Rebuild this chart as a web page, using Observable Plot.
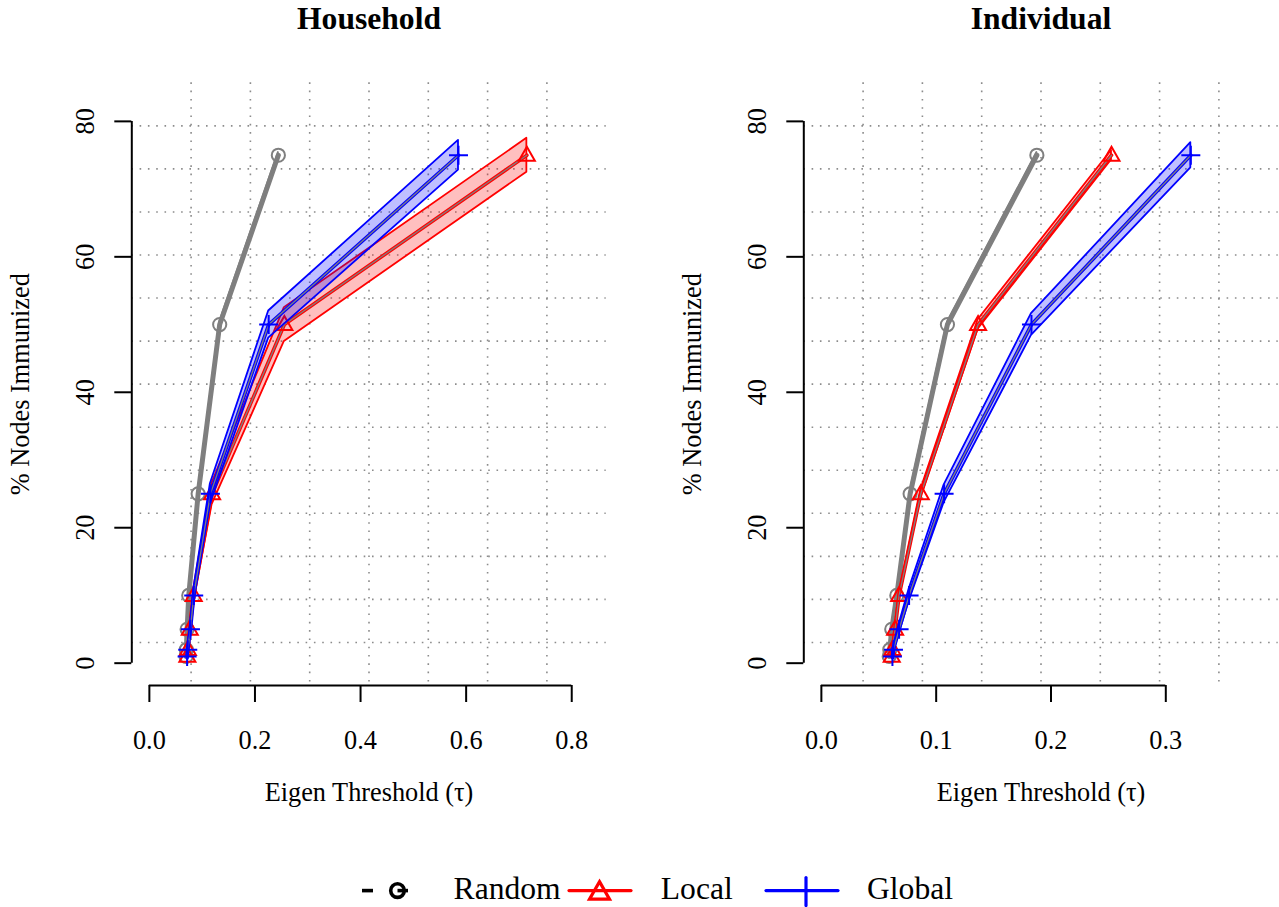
<!DOCTYPE html>
<html><head><meta charset="utf-8">
<script src="https://cdn.jsdelivr.net/npm/d3@7"></script>
<script src="https://cdn.jsdelivr.net/npm/@observablehq/plot@0.6"></script>
<style>
html,body{margin:0;padding:0;background:#fff;}
#page{position:relative;width:1279px;height:907px;overflow:hidden;font-family:"Liberation Serif","Times New Roman",serif;}
#page > svg{position:absolute;top:0;}
</style></head><body><div id="page"></div>
<script>
// ---- data ----
const pctImmunized = [1, 2, 5, 10, 25, 50, 75];
const strategies = ["Random", "Local", "Global"];
const strategyColors = ["#7f7f7f", "#ff0000", "#0000ff"];

const householdRandom = [0.0695, 0.0700, 0.0715, 0.0746, 0.0924, 0.1332, 0.2443];
const householdLocal  = [0.0720, 0.0730, 0.0765, 0.0840, 0.1188, 0.2557, 0.7150];
const householdGlobal = [0.0715, 0.0727, 0.0778, 0.0840, 0.1156, 0.2260, 0.5855];
const householdRandomSd = [0.2, 0.2, 0.25, 0.3, 0.35, 0.4, 0.4];
const householdLocalSd  = [0.4, 0.5, 0.7, 1.0, 1.6, 2.5, 2.5];
const householdGlobalSd = [0.4, 0.5, 0.7, 0.9, 1.5, 2.0, 2.2];

const individualRandom = [0.0591, 0.0596, 0.0613, 0.0657, 0.0773, 0.1098, 0.1877];
const individualLocal  = [0.0613, 0.0619, 0.0642, 0.0677, 0.0866, 0.1365, 0.2527];
const individualGlobal = [0.0619, 0.0628, 0.0677, 0.0764, 0.1069, 0.1830, 0.3218];
const individualRandomSd = [0.2, 0.2, 0.25, 0.3, 0.35, 0.4, 0.4];
const individualLocalSd  = [0.3, 0.3, 0.4, 0.5, 0.6, 0.7, 0.7];
const individualGlobalSd = [0.4, 0.5, 0.7, 0.9, 1.3, 1.6, 1.85];

const xTicksHousehold = [0, 0.2, 0.4, 0.6, 0.8];
const xTicksIndividual = [0, 0.1, 0.2, 0.3];
const yTicks = [0, 20, 40, 60, 80];
const xLimHousehold = [0, 0.832];
const xLimIndividual = [0, 0.3826];
const yLim = [0, 82.4];
const xLabel = "Eigen Threshold (\u03c4)";
const yLabel = "% Nodes Immunized";

// ---- helpers ----
function rowsFor(taus, sds, strategy) {
  return pctImmunized.map((p, i) => ({strategy, tau: taus[i], pct: p, lo: p - sds[i], hi: p + sds[i]}));
}
const symCircle = {draw(ctx, size) { const r = Math.sqrt(size / Math.PI); ctx.moveTo(r, 0); ctx.arc(0, 0, r, 0, 2 * Math.PI); }};
const symTriangle = {draw(ctx, size) { const r = Math.sqrt(size / Math.PI); ctx.moveTo(0, -r * 1.07); ctx.lineTo(r, r * 0.68); ctx.lineTo(-r, r * 0.68); ctx.closePath(); }};
const symPlus = {draw(ctx, size) { const r = Math.sqrt(size / Math.PI); ctx.moveTo(-r, 0); ctx.lineTo(r, 0); ctx.moveTo(0, -r); ctx.lineTo(0, r); }};
const symbols = [symCircle, symTriangle, symPlus];
const symR = [6.6, 8, 9.5];
const ext = l => [l[0] - 0.04 * (l[1] - l[0]), l[1] + 0.04 * (l[1] - l[0])];

const FS = 26.3, FT = 31.6;
const W = 672, H = 907, ML = 131.3, MT = 82.3, FRAME_W = 474.4, FRAME_H = 602.7;

function panel({title, xLim, xTicks, series, left, width}) {
  const xd = ext(xLim), yd = ext(yLim);
  const gx = d3.range(1, 8).map(k => xd[0] + k * (xd[1] - xd[0]) / 8);
  const gy = d3.range(1, 14).map(k => yd[0] + k * (yd[1] - yd[0]) / 14);
  const grid = {stroke: "#8c8c8c", strokeWidth: 1.6, strokeDasharray: "1.6,6.7"};
  const marks = [
    Plot.ruleX(gx, grid),
    Plot.ruleY(gy, grid)
  ];
  series.forEach((rows, i) => {
    const c = strategyColors[i];
    marks.push(
      Plot.areaY(rows, {x: "tau", y1: "lo", y2: "hi", fill: c, fillOpacity: 0.25, stroke: c, strokeWidth: 1.8, strokeLinejoin: "round"}),
      Plot.line(rows, {x: "tau", y: "pct", stroke: c, strokeWidth: i === 0 ? 5 : 3.6}),
      Plot.line(rows, {x: "tau", y: "pct", stroke: "#7f7f7f", strokeWidth: 1.3}),
      Plot.dot(rows, {x: "tau", y: "pct", symbol: symbols[i], r: symR[i], stroke: c, strokeWidth: 2, fill: "none"})
    );
  });
  marks.push(
    // axes
    Plot.ruleY([yd[0]], {x1: xTicks[0], x2: xTicks[xTicks.length - 1], stroke: "black", strokeWidth: 2}),
    Plot.ruleX([xd[0]], {y1: yTicks[0], y2: yTicks[yTicks.length - 1], stroke: "black", strokeWidth: 2}),
    Plot.axisX({ticks: xTicks, tickSize: 17, tickFormat: () => "", label: null, stroke: "black", strokeWidth: 2, strokeOpacity: 1}),
    Plot.axisY({ticks: yTicks, tickSize: 17, tickFormat: () => "", label: null, stroke: "black", strokeWidth: 2, strokeOpacity: 1}),
    Plot.text(xTicks, {x: d => d, text: d => d3.format(".1f")(d), frameAnchor: "bottom", dy: 63, lineAnchor: "bottom", fontSize: FS}),
    Plot.text(yTicks, {y: d => d, text: d => String(d), frameAnchor: "left", dx: -37.9, rotate: -90, lineAnchor: "bottom", textAnchor: "middle", fontSize: FS}),
    Plot.text([xLabel], {text: d => d, frameAnchor: "bottom", dy: 115.7, lineAnchor: "bottom", fontSize: FS}),
    Plot.text([yLabel], {text: d => d, frameAnchor: "left", dx: 28.7 - ML, rotate: -90, lineAnchor: "bottom", textAnchor: "middle", fontSize: FS}),
    Plot.text([title], {text: d => d, frameAnchor: "top", dy: 28.3 - MT, lineAnchor: "bottom", fontSize: FT, fontWeight: "bold"})
  );
  const svg = Plot.plot({
    width, height: H,
    marginLeft: ML, marginTop: MT,
    marginRight: width - ML - FRAME_W,
    marginBottom: H - MT - FRAME_H,
    x: {domain: xd},
    y: {domain: yd},
    style: {fontFamily: "Liberation Serif, Times New Roman, serif", background: "transparent", overflow: "visible"},
    marks
  });
  svg.style.left = left + "px";
  return svg;
}

const page = document.getElementById("page");
page.appendChild(panel({
  title: "Household", xLim: xLimHousehold, xTicks: xTicksHousehold, left: 0, width: W,
  series: [rowsFor(householdRandom, householdRandomSd, "Random"), rowsFor(householdLocal, householdLocalSd, "Local"), rowsFor(householdGlobal, householdGlobalSd, "Global")]
}));
page.appendChild(panel({
  title: "Individual", xLim: xLimIndividual, xTicks: xTicksIndividual, left: W, width: 1279 - W,
  series: [rowsFor(individualRandom, individualRandomSd, "Random"), rowsFor(individualLocal, individualLocalSd, "Local"), rowsFor(individualGlobal, individualGlobalSd, "Global")]
}));

// ---- legend ----
const lg = d3.select(page).append("svg").attr("width", 1279).attr("height", 47).style("top", "860px").style("left", "0px");
const ly = 30.6;
lg.append("line").attr("x1", 362).attr("x2", 373).attr("y1", ly).attr("y2", ly).attr("stroke", "black").attr("stroke-width", 3.6);
lg.append("line").attr("x1", 397.5).attr("x2", 408).attr("y1", ly).attr("y2", ly).attr("stroke", "black").attr("stroke-width", 3.6);
lg.append("circle").attr("cx", 397.5).attr("cy", ly).attr("r", 6.8).attr("fill", "none").attr("stroke", "black").attr("stroke-width", 3.6);
lg.append("line").attr("x1", 569).attr("x2", 631).attr("y1", ly).attr("y2", ly).attr("stroke", strategyColors[1]).attr("stroke-width", 3.2).attr("stroke-linecap", "round");
lg.append("path").attr("d", `M599.5,${ly - 9}L609.5,${ly + 8.5}L589.5,${ly + 8.5}Z`).attr("fill", "none").attr("stroke", strategyColors[1]).attr("stroke-width", 3.2);
lg.append("line").attr("x1", 766).attr("x2", 838).attr("y1", ly).attr("y2", ly).attr("stroke", strategyColors[2]).attr("stroke-width", 3.2).attr("stroke-linecap", "round");
lg.append("line").attr("x1", 806).attr("x2", 806).attr("y1", ly - 13).attr("y2", ly + 15).attr("stroke", strategyColors[2]).attr("stroke-width", 3.2).attr("stroke-linecap", "round");
const labelX = [453.6, 660.8, 867];
strategies.forEach((s, i) => {
  lg.append("text").attr("x", labelX[i]).attr("y", 39).attr("font-size", FT).attr("font-family", "Liberation Serif, Times New Roman, serif").text(s);
});
</script>
</body></html>
